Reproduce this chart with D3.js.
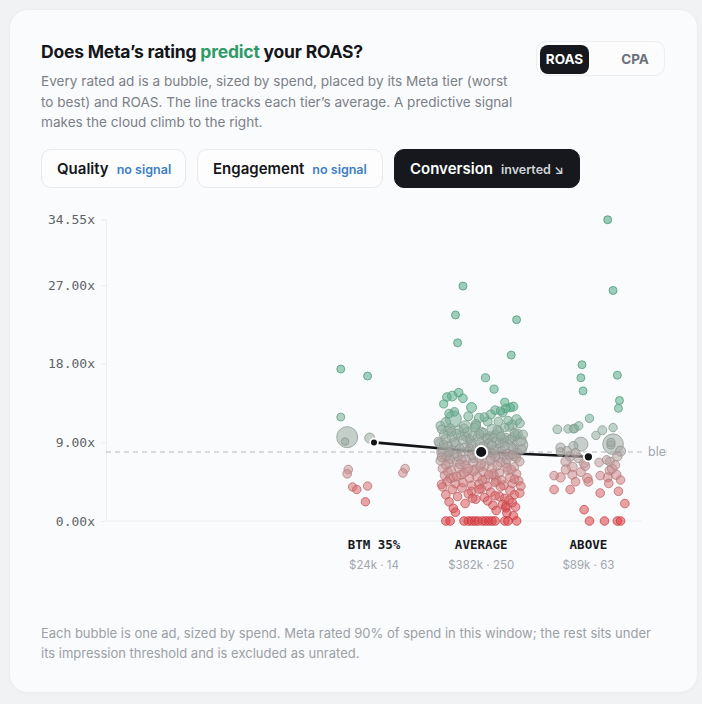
<!DOCTYPE html>
<html>
<head>
<meta charset="utf-8">
<script src="https://cdn.jsdelivr.net/npm/d3@7"></script>
<style>
  body { margin: 0; width: 702px; height: 704px; background: #f1f2f4; font-family: Inter, "Noto Sans", sans-serif; position: relative; overflow: hidden; }
  .card { position: absolute; left: 10px; top: 10px; width: 687px; height: 682px; background: #fafbfc; border-radius: 18px; box-shadow: 0 0 0 1px #eceef1, 0 1px 4px rgba(0,0,0,0.04); }
  .title { position: absolute; left: 41px; top: 41px; font-size: 17.5px; font-weight: 700; color: #14161a; letter-spacing: -0.2px; }
  .title .hl { color: #2f9a68; }
  .desc { position: absolute; left: 41px; top: 71px; font-size: 13.6px; line-height: 20.6px; color: #7b8088; }
  .toggle { position: absolute; left: 536px; top: 41px; width: 129px; height: 35px; border: 1px solid #eceef0; border-radius: 10px; background: #fcfcfd; box-sizing: border-box; }
  .toggle div { position: absolute; top: 3px; height: 29px; line-height: 29px; font-size: 13.5px; font-weight: 700; text-align: center; border-radius: 8px; }
  .tab { position: absolute; top: 149px; height: 39px; border: 1px solid #e7e9ec; border-radius: 10px; background: #fdfdfe; box-sizing: border-box; line-height: 37px; padding-left: 15px; font-size: 15px; font-weight: 600; color: #14161a; }
  .tab small { font-size: 12.5px; font-weight: 600; color: #3f7fc4; margin-left: 8px; }
  .tab.on { background: #16181d; border-color: #16181d; color: #fff; }
  .tab.on small { color: #d3d6da; }
  .foot { position: absolute; left: 41px; top: 623px; font-size: 13px; line-height: 20px; color: #9aa0a6; }
  svg { position: absolute; left: 41px; top: 195px; }
</style>
</head>
<body>
<div class="card"></div>
<div class="title">Does Meta’s rating <span class="hl">predict</span> your ROAS?</div>
<div class="desc">Every rated ad is a bubble, sized by spend, placed by its Meta tier (worst<br>to best) and ROAS. The line tracks each tier’s average. A predictive signal<br>makes the cloud climb to the right.</div>
<div class="toggle">
  <div style="left:3px;width:49px;background:#16181d;color:#fff;">ROAS</div>
  <div style="left:75px;width:46px;color:#6b7078;">CPA</div>
</div>
<div class="tab" style="left:41px;width:145px;">Quality<small>no signal</small></div>
<div class="tab" style="left:197px;width:186px;">Engagement<small>no signal</small></div>
<div class="tab on" style="left:394px;width:186px;">Conversion<small>inverted ↘</small></div>
<div class="foot">Each bubble is one ad, sized by spend. Meta rated 90% of spend in this window; the rest sits under<br>its impression threshold and is excluded as unrated.</div>
<script>
// tiers, worst to best
const tiers = ["BTM 10%", "BTM 20%", "BTM 35%", "AVERAGE", "ABOVE"];
const tierSpend = ["", "", "$24k", "$382k", "$89k"];
const tierCount = [0, 0, 14, 250, 63];
const tierAvg = [null, null, 9.0, 7.9, 7.35];
const tierSpendK = [0, 0, 24, 382, 89];
const blendedAvg = 7.9;
const yTicks = [0, 9, 18, 27, 34.55];

// each ad: [roas, spend $k, jitter within tier band]
const btm35Ads = [
  [17.4,0.17,-0.31],[16.6,0.17,-0.06],[11.9,0.17,-0.31],[9.6,9.7,-0.25],[9.1,0.1,-0.27],
  [9.5,0.69,-0.04],[5.9,0.3,-0.24],[5.4,0.3,-0.25],[6.0,0.3,0.29],[5.5,0.3,0.27],
  [3.9,0.25,-0.20],[3.6,0.25,-0.16],[4.0,0.25,-0.06],[2.2,0.25,-0.08]
];

const averageAds = [
  [26.9,0.17,-0.17],[23.6,0.17,-0.24],[23.05,0.17,0.33],[20.4,0.17,-0.22],[19.0,0.17,0.28],
  [16.4,0.2,0.04],[15.1,0.2,0.12],[14.2,0.3,-0.32],[14.3,0.6,-0.27],[14.7,0.3,-0.21],[14.05,0.3,-0.17],
  [13.0,0.7,-0.09],[13.1,0.4,0.30],[13.0,0.3,0.27],[12.7,0.3,0.13],[12.4,0.3,0.20],[11.7,4.3,-0.26],
  [12.5,0.3,-0.25],[11.9,0.3,0.03],[11.6,0.7,0.33],[11.4,0.3,0.16],[10.8,1.5,-0.15],[13.4,0.2,-0.35],
  [12.9,0.3,0.23],[12.2,0.4,0.09],[11.8,0.5,-0.02],[12.6,0.2,0.18],[11.3,0.6,-0.33],[11.5,0.3,0.25],
  [12.0,0.4,-0.12],[11.2,0.4,0.36],[13.6,0.2,0.22],[11.1,0.5,-0.05],[12.3,0.3,-0.30],[11.4,0.4,0.06],[11.0,0.6,0.29],
  [10.9,0.4,-0.38],[10.6,0.5,-0.29],[10.4,0.3,-0.21],[10.2,0.6,-0.13],[10.7,0.3,-0.06],[10.1,0.4,0.02],[10.5,0.7,0.10],[10.3,0.3,0.17],[10.8,0.4,0.26],[10.0,0.5,0.34],
  [9.9,0.3,-0.35],[9.6,0.6,-0.27],[9.8,0.4,-0.19],[9.4,0.3,-0.11],[9.7,0.5,-0.03],[9.5,0.4,0.05],[9.9,0.3,0.13],[9.3,0.6,0.21],[9.6,0.3,0.29],[9.2,0.9,0.37],
  [10.3,0.4,-0.31],[10.0,0.3,-0.23],[10.6,0.4,-0.16],[9.8,0.3,-0.08],[10.2,0.5,0.00],[9.7,0.4,0.08],[10.4,0.3,0.15],[9.5,0.5,0.23],[10.1,0.3,0.31],[9.9,0.4,0.39],
  [9.1,0.3,-0.40],[9.4,0.5,-0.33],[9.0,0.4,-0.25],[9.3,0.3,-0.17],[9.1,0.6,-0.10],[9.0,0.3,-0.01],[9.4,0.4,0.06],[9.2,0.3,0.14],[9.0,0.5,0.20],[9.3,0.4,0.27],
  [10.5,0.3,-0.37],[10.9,0.5,-0.05],[10.7,0.3,0.22],[9.6,0.4,-0.14],[9.8,0.7,0.32],[10.2,0.3,-0.28],[9.5,0.3,0.11],[10.0,0.4,-0.02],[9.7,0.3,0.18],
  [8.9,0.4,-0.39],[8.6,0.3,-0.31],[8.8,0.5,-0.24],[8.4,0.3,-0.16],[8.7,0.4,-0.09],[8.5,0.6,-0.01],[8.9,0.3,0.07],[8.2,0.4,0.14],[8.6,0.3,0.22],[8.3,0.5,0.30],[8.7,4.3,0.36],
  [7.9,4.3,-0.34],[8.1,0.3,-0.27],[7.8,0.4,-0.19],[8.0,0.3,-0.12],[7.6,0.5,-0.04],[7.9,0.3,0.04],[7.7,0.4,0.11],[8.0,0.6,0.19],[7.5,0.3,0.26],[7.8,0.4,0.34],
  [7.3,0.3,-0.37],[7.1,0.4,-0.29],[7.4,0.3,-0.22],[7.0,0.5,-0.14],[7.2,0.3,-0.07],[7.5,0.4,0.01],[7.1,0.3,0.09],[7.3,0.5,0.16],[7.0,0.3,0.24],[7.4,0.4,0.31],
  [8.8,0.3,-0.35],[8.3,0.4,-0.11],[8.1,0.3,0.12],[8.5,0.4,0.28],[7.7,0.3,-0.25],[7.6,0.4,0.21],[7.2,0.3,-0.02],[8.4,0.5,0.05],[7.9,0.3,-0.30],[8.2,0.4,0.38],
  [7.05,0.3,-0.18],[7.35,0.4,0.13],[8.6,0.3,0.02],[7.8,0.5,0.09],[8.9,0.4,0.17],[7.5,0.3,-0.09],[8.0,0.4,-0.36],[7.2,0.3,0.33],[8.3,0.3,-0.20],[7.7,0.4,0.25],
  [8.1,0.3,-0.05],[7.4,0.5,-0.32],[8.7,0.3,0.10],[7.6,0.3,0.29],
  [6.9,0.4,-0.38],[6.6,0.3,-0.30],[6.8,0.5,-0.23],[6.4,0.3,-0.15],[6.7,0.4,-0.08],[6.5,0.3,0.00],[6.9,0.5,0.08],[6.3,0.3,0.15],[6.6,0.4,0.23],[6.2,0.3,0.31],
  [6.0,0.4,-0.36],[5.8,0.3,-0.28],[6.1,0.5,-0.21],[5.7,0.3,-0.13],[5.9,0.4,-0.06],[5.6,0.3,0.02],[6.0,0.5,0.10],[5.5,0.3,0.17],[5.8,0.4,0.25],[5.4,0.3,0.33],
  [5.2,0.4,-0.34],[5.0,0.3,-0.26],[5.3,0.4,-0.19],[4.9,0.3,-0.11],[5.1,0.5,-0.04],[4.8,0.3,0.04],[5.2,0.4,0.12],[4.7,0.3,0.19],[5.0,0.4,0.27],[4.6,0.3,0.35],
  [4.5,0.3,-0.32],[4.3,0.4,-0.24],[4.4,0.3,-0.17],[4.1,0.3,-0.09],[4.2,0.4,-0.02],[4.0,0.3,0.06],[4.4,0.3,0.13],[4.1,0.4,0.21],[4.3,0.3,0.29],[4.0,0.3,0.37],
  [6.4,0.3,-0.33],[6.7,0.4,0.18],[5.6,0.3,-0.31],[5.9,0.3,0.28],[6.2,0.4,-0.01],[5.3,0.3,0.07],[4.9,0.4,-0.29],[5.5,0.3,-0.16],[6.8,0.3,0.36],[4.6,0.4,0.14],
  [6.1,0.3,0.24],[5.7,0.4,-0.07],[6.5,0.3,-0.20],[4.8,0.3,0.31],[5.1,0.3,-0.23],[6.3,0.4,0.03],[4.2,0.3,-0.37],[5.4,0.4,0.11],[6.0,0.3,-0.12],[4.7,0.3,0.01],
  [3.9,0.3,-0.36],[3.6,0.3,-0.27],[3.8,0.4,-0.18],[3.4,0.3,-0.09],[3.7,0.3,0.00],[3.3,0.3,0.09],[3.9,0.3,0.18],[3.5,0.4,0.27],[3.2,0.3,0.36],[3.6,0.3,-0.02],
  [3.0,0.3,-0.33],[2.8,0.3,-0.22],[3.1,0.3,-0.12],[2.7,0.3,0.03],[2.9,0.3,0.13],[2.6,0.3,0.22],[3.0,0.3,0.31],[2.5,0.3,-0.05],[2.8,0.4,0.17],[2.4,0.3,0.26],
  [2.2,0.3,-0.30],[2.0,0.3,-0.15],[2.3,0.3,0.06],[1.9,0.3,0.20],[2.1,0.3,0.29],[1.8,0.3,0.11],[1.7,0.3,0.23],[1.6,0.3,0.32],[1.45,0.3,-0.26],[2.6,0.3,-0.08],
  [1.5,0.3,0.23],[0.9,0.3,0.24],[1.2,0.3,0.14],[0.6,0.3,0.30],[1.0,0.3,-0.24],
  [0,0.3,-0.33],[0,0.3,-0.29],[0,0.3,-0.16],[0,0.3,-0.12],[0,0.3,-0.09],[0,0.3,-0.06],[0,0.3,-0.03],[0,0.3,0.01],
  [0,0.3,0.04],[0,0.3,0.07],[0,0.3,0.10],[0,0.3,0.13],[0,0.3,0.22],[0,0.3,0.25],[0,0.3,0.33]
];

const aboveAds = [
  [34.5,0.17,0.18],[26.4,0.17,0.23],[17.9,0.17,-0.06],[16.4,0.17,-0.07],[14.9,0.17,-0.05],
  [16.7,0.17,0.27],[13.8,0.17,0.29],[12.9,0.17,0.28],[11.75,0.25,0.01],[10.5,0.35,-0.29],
  [10.55,0.25,-0.19],[10.55,0.25,-0.14],[10.6,0.35,-0.13],[10.9,0.25,-0.09],[10.4,0.35,0.13],
  [9.8,0.25,0.07],[10.7,0.25,0.23],[8.8,2.75,-0.07],[8.8,9.2,0.23],[8.4,0.5,-0.26],
  [8.6,0.4,-0.14],[8.0,0.5,-0.20],[8.0,0.7,0.30],[8.7,0.2,0.21],[7.4,0.5,-0.17],
  [6.8,0.7,-0.21],[7.2,0.5,-0.09],[6.6,0.5,-0.04],[6.7,0.3,0.10],[6.8,0.4,0.20],
  [6.4,0.4,0.25],[7.4,0.5,0.27],[5.2,0.3,-0.32],[5.0,0.5,-0.26],[5.9,0.5,-0.21],
  [5.3,0.4,-0.15],[4.5,0.3,-0.12],[4.9,0.5,-0.01],[4.5,0.4,0.00],[5.2,0.3,0.11],
  [5.0,0.4,0.18],[5.8,0.5,0.20],[5.3,0.5,0.26],[4.3,0.3,0.19],[3.6,0.3,-0.32],
  [3.6,0.3,-0.17],[3.2,0.3,0.11],[3.4,0.3,0.28],[2.0,0.3,0.34],[1.3,0.3,-0.04],
  [0,0.3,0.01],[0,0.3,0.15],[0,0.3,0.27],[0,0.3,0.30],[7.8,0.4,-0.12],
  [6.2,0.6,-0.15],[5.6,0.4,-0.07],[7.9,0.3,-0.26],[6.0,0.5,0.22],[7.0,0.3,0.17],
  [9.0,0.2,0.21],[6.3,0.4,-0.03],[4.7,0.3,0.30]
];

const adsByTier = { "BTM 35%": btm35Ads, "AVERAGE": averageAds, "ABOVE": aboveAds };

const W = 626, H = 390;
const svg = d3.select("body").append("svg").attr("width", W).attr("height", H);

const x = d3.scaleBand().domain(tiers).range([65, 601]);
const y = d3.scaleLinear().domain([0, 34.55]).range([326, 24.3]);
const r = d3.scaleSqrt().domain([0, 11]).range([3, 11]);
const rAvg = d3.scaleSqrt().domain([0, 382]).range([3.2, 6]);
const color = d3.scaleLinear()
  .domain([0, 3.5, 6, 8.2, 10.5, 13, 35])
  .range(["#dd3e44", "#d76a6c", "#c99596", "#a2a6a3", "#90b0a0", "#5aae8b", "#45a47e"])
  .clamp(true);

const clip = svg.append("clipPath").attr("id", "clip").append("rect").attr("width", W).attr("height", H);
const g = svg.append("g").attr("clip-path", "url(#clip)");

// y axis
const yAxis = g.append("g").attr("transform", "translate(65,0)")
  .call(d3.axisLeft(y).tickValues(yTicks).tickSize(5).tickPadding(6).tickFormat(d => d.toFixed(2) + "x"));
yAxis.select(".domain").attr("stroke", "#eceef0");
yAxis.selectAll(".tick line").attr("stroke", "#eceef0");
yAxis.selectAll("text").attr("font-family", "'DejaVu Sans Mono', monospace").attr("font-size", 13).attr("fill", "#5f636a");

// baseline
g.append("line").attr("x1", 65).attr("x2", 601).attr("y1", y(0)).attr("y2", y(0)).attr("stroke", "#eceef0");

// blended average (label runs past the card padding and is cut, as in the original)
g.append("line").attr("x1", 65).attr("x2", 601).attr("y1", y(blendedAvg)).attr("y2", y(blendedAvg))
  .attr("stroke", "#b4b8be").attr("stroke-width", 1.2).attr("stroke-dasharray", "5,4");
g.append("text").attr("x", 607).attr("y", y(blendedAvg)).attr("dy", "0.35em")
  .attr("font-size", 12.5).attr("fill", "#a3a7ad").text("blended");

// tier average line
const avgPts = tiers.map((t, i) => ({ t, v: tierAvg[i], s: tierSpendK[i] })).filter(d => d.v != null);
g.append("path").datum(avgPts)
  .attr("fill", "none").attr("stroke", "#121418").attr("stroke-width", 2.6)
  .attr("d", d3.line().x(d => x(d.t) + x.bandwidth() / 2).y(d => y(d.v)));

// bubbles
const ads = [];
tiers.forEach(t => (adsByTier[t] || []).forEach(a => ads.push({ t, roas: a[0], spend: a[1], jit: a[2] })));
ads.sort((a, b) => b.spend - a.spend);

g.append("g").selectAll("circle").data(ads).enter().append("circle")
  .attr("cx", d => x(d.t) + x.bandwidth() / 2 + d.jit * x.bandwidth())
  .attr("cy", d => y(d.roas))
  .attr("r", d => r(d.spend))
  .attr("fill", d => color(d.roas))
  .attr("fill-opacity", 0.55)
  .attr("stroke", d => d3.color(color(d.roas)).darker(0.35))
  .attr("stroke-opacity", 0.75)
  .attr("stroke-width", 1);

// tier average dots
g.append("g").selectAll("circle").data(avgPts).enter().append("circle")
  .attr("cx", d => x(d.t) + x.bandwidth() / 2)
  .attr("cy", d => y(d.v))
  .attr("r", d => rAvg(d.s))
  .attr("fill", "#121418").attr("stroke", "#fff").attr("stroke-width", 1.8);

// tier labels
const labels = g.append("g").selectAll("g").data(tiers.map((t, i) => ({ t, i })).filter(d => tierCount[d.i] > 0))
  .enter().append("g").attr("transform", d => "translate(" + (x(d.t) + x.bandwidth() / 2) + ",0)");
labels.append("text").attr("y", 354).attr("text-anchor", "middle")
  .attr("font-family", "'DejaVu Sans Mono', monospace").attr("font-weight", 700).attr("font-size", 12.5)
  .attr("fill", "#17191d").text(d => d.t);
labels.append("text").attr("y", 374).attr("text-anchor", "middle")
  .attr("font-size", 11.5).attr("fill", "#a2a6ac").text(d => tierSpend[d.i] + " · " + tierCount[d.i]);
</script>
</body>
</html>
